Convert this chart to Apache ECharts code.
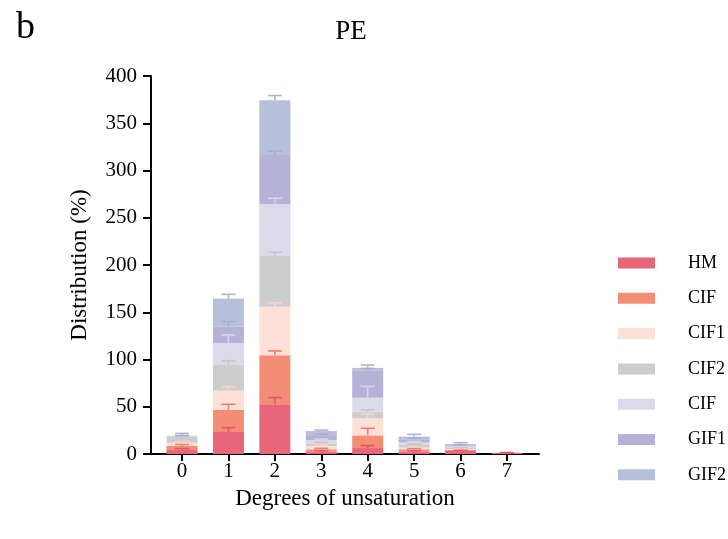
<!DOCTYPE html>
<html><head><meta charset="utf-8">
<script src="https://cdn.jsdelivr.net/npm/echarts@6/dist/echarts.min.js"></script>
<style>html,body{margin:0;padding:0;background:#fff}#c{width:728px;height:539px}</style>
</head><body><div id="c"></div>
<script>
const categories = ['0', '1', '2', '3', '4', '5', '6', '7'];
const tickValues = [0, 1, 2, 3, 4, 5, 6, 7];
const seriesNames = ['HM', 'CIF', 'CIF1', 'CIF2', 'CIF', 'GIF1', 'GIF2'];
const HM   = [4.2, 23.3, 52.6, 2.5, 6.3, 2.5, 3.2, 1.2];
const CIF  = [4.3, 23.3, 51.8, 2.5, 13.4, 2.5, 1.2, 0];
const CIF1 = [3.5, 20.4, 51.5, 3.5, 18.0, 1.7, 0.8, 0];
const CIF2 = [6.3, 27.2, 53.6, 2.8, 7.1, 2.8, 1.2, 0];
const CIFb = [0.4, 23.3, 55.1, 3.5, 14.8, 2.8, 1.5, 0];
const GIF1 = [0.3, 17.2, 51.8, 5.2, 29.0, 3.2, 1.3, 0];
const GIF2 = [0.3, 29.7, 57.9, 4.3, 2.5, 2.8, 1.3, 0];
const errHM   = [1.5, 4.6, 7.0, 1.0, 2.5, 1.0, 1.0, 0.3];
const errCIF  = [1.5, 6.0, 4.6, 1.0, 7.5, 1.0, 0.5, 0];
const errCIF1 = [1.0, 4.3, 4.0, 1.0, 4.6, 0.8, 0.5, 0];
const errCIF2 = [1.0, 4.6, 4.0, 1.0, 2.0, 0.8, 0.5, 0];
const errCIFb = [0.5, 8.5, 6.0, 1.0, 12.0, 1.0, 0.5, 0];
const errGIF1 = [0.5, 5.3, 4.0, 1.0, 2.0, 1.0, 0.5, 0];
const errGIF2 = [2.5, 4.6, 5.0, 1.0, 3.0, 2.5, 1.5, 0];

const values = [HM, CIF, CIF1, CIF2, CIFb, GIF1, GIF2];
const errs = [errHM, errCIF, errCIF1, errCIF2, errCIFb, errGIF1, errGIF2];
const colors = ['#e8667a', '#f38d76', '#fde1d8', '#cdcdcd', '#dcdaea', '#b6b2d7', '#b6c0da'];
const errColors = ['#e2566c', '#ef7f67', '#f9d3c8', '#c6c6c6', '#d6d4e6', '#aeaad2', '#aab6d2'];
const FONT = '"Liberation Serif", "Times New Roman", serif';
const legendNames = seriesNames.map((n, i) => n + (i === 4 ? ' ' : ''));

const series = [];
values.forEach((vals, si) => {
  series.push({
    name: legendNames[si],
    type: 'bar', stack: 'total', barWidth: 31,
    xAxisIndex: 1, yAxisIndex: 1,
    itemStyle: { color: colors[si] },
    data: vals.slice(),
    z: 2
  });
});
const cum = categories.map(() => 0);
values.forEach((vals, si) => {
  const ed = vals.map((v, i) => { cum[i] += v; return [i, cum[i], cum[i] + errs[si][i]]; });
  series.push({
    type: 'custom', z: 5, silent: true,
    xAxisIndex: 1, yAxisIndex: 1,
    data: ed.filter(d => d[2] > d[1]),
    renderItem: function (params, api) {
      const x = api.value(0), y0 = api.value(1), y1 = api.value(2);
      const p0 = api.coord([x, y0]), p1 = api.coord([x, y1]);
      const hw = 7;
      return {
        type: 'group',
        children: [
          { type: 'line', shape: { x1: p0[0], y1: p0[1], x2: p1[0], y2: p1[1] }, style: { stroke: errColors[si], lineWidth: 1.6 } },
          { type: 'line', shape: { x1: p1[0] - hw, y1: p1[1], x2: p1[0] + hw, y2: p1[1] }, style: { stroke: errColors[si], lineWidth: 1.6 } }
        ]
      };
    }
  });
});

const chart = echarts.init(document.getElementById('c'), null, { renderer: 'canvas' });
chart.setOption({
  animation: false,
  backgroundColor: '#fff',
  textStyle: { fontFamily: FONT },
  title: [
    { text: 'PE', left: 346, top: 13, textAlign: 'center', textStyle: { fontFamily: FONT, fontSize: 27, fontWeight: 'normal', color: '#000' } },
    { text: 'b', left: 11, top: 4, textStyle: { fontFamily: FONT, fontSize: 38, fontWeight: 'normal', color: '#000' } }
  ],
  legend: {
    orient: 'vertical', left: 613, top: 249,
    itemWidth: 37, itemHeight: 11, itemGap: 17.3,
    icon: 'rect',
    textStyle: { fontFamily: FONT, fontSize: 18, color: '#000', padding: [0, 0, 0, 28] },
    data: legendNames,
    formatter: function (n) { return n.trim(); }
  },
  grid: [
    { left: 151, right: 189, top: 76, bottom: 85, containLabel: false },
    { left: 158.8, right: 197.8, top: 76, bottom: 85, containLabel: false }
  ],
  xAxis: [{
    gridIndex: 0, type: 'value', min: -0.668, max: 7.689,
    name: 'Degrees of unsaturation', nameLocation: 'middle', nameGap: 33,
    nameTextStyle: { fontFamily: FONT, fontSize: 23, color: '#000' },
    axisLine: { show: true, onZero: false, lineStyle: { color: '#000', width: 2 } },
    axisTick: { show: true, length: 7, lineStyle: { color: '#000', width: 2 }, customValues: tickValues },
    axisLabel: { fontFamily: FONT, fontSize: 21, color: '#000', margin: 7, customValues: tickValues },
    splitLine: { show: false }
  }, {
    gridIndex: 1, type: 'category', data: categories, boundaryGap: true,
    axisLine: { show: false }, axisTick: { show: false }, axisLabel: { show: false }, splitLine: { show: false }
  }],
  yAxis: [{
    gridIndex: 0, type: 'value', min: 0, max: 400, interval: 50,
    name: 'Distribution (%)', nameLocation: 'middle', nameGap: 60,
    nameTextStyle: { fontFamily: FONT, fontSize: 23, color: '#000' },
    axisLine: { show: true, onZero: false, lineStyle: { color: '#000', width: 2 } },
    axisTick: { show: true, length: 8, lineStyle: { color: '#000', width: 2 } },
    axisLabel: { fontFamily: FONT, fontSize: 21, color: '#000', margin: 14 },
    splitLine: { show: false }
  }, {
    gridIndex: 1, type: 'value', min: 0, max: 400, interval: 50,
    axisLine: { show: false }, axisTick: { show: false }, axisLabel: { show: false }, splitLine: { show: false }
  }],
  series: series
});
</script>
</body></html>
